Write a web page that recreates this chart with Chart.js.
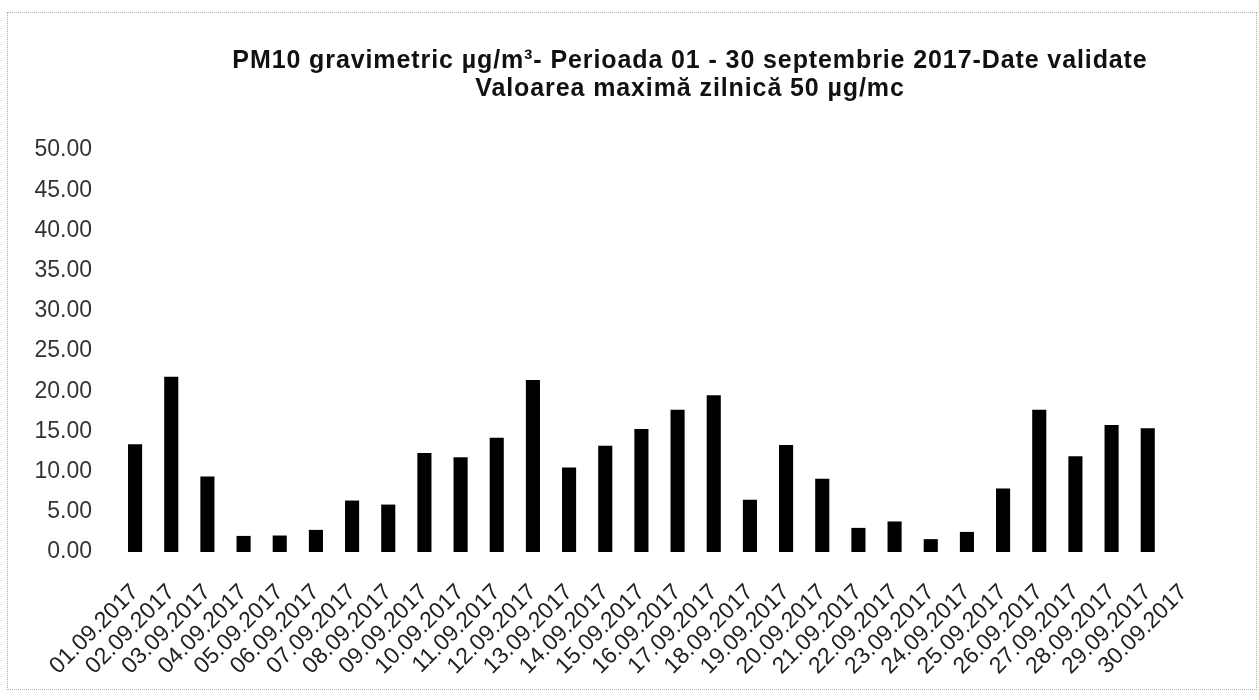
<!DOCTYPE html>
<html>
<head>
  <meta charset="utf-8">
  <title>PM10 gravimetric septembrie 2017</title>
  <style>
    body {
      margin: 0;
      background: #fff;
      font-family: "Liberation Sans", Arial, sans-serif;
    }
    #wrap {
      position: relative;
      width: 1259px;
      height: 700px;
    }
    #frame {
      position: absolute;
      left: 7px;
      top: 12px;
      width: 1248px;
      height: 676px;
      border: 1px dotted #b0b0b0;
      pointer-events: none;
    }
  </style>
</head>
<body>
  <div id="wrap">
    <canvas id="pmChart" width="1259" height="700"></canvas>
    <div id="frame"></div>
  </div>

  <script src="https://cdn.jsdelivr.net/npm/chart.js"></script>
  <script>
    const titleLines = [
      "PM10 gravimetric µg/m³- Perioada 01 - 30 septembrie 2017-Date validate",
      "Valoarea maximă zilnică 50 µg/mc"
    ];

    const days = [
      "01.09.2017", "02.09.2017", "03.09.2017", "04.09.2017", "05.09.2017",
      "06.09.2017", "07.09.2017", "08.09.2017", "09.09.2017", "10.09.2017",
      "11.09.2017", "12.09.2017", "13.09.2017", "14.09.2017", "15.09.2017",
      "16.09.2017", "17.09.2017", "18.09.2017", "19.09.2017", "20.09.2017",
      "21.09.2017", "22.09.2017", "23.09.2017", "24.09.2017", "25.09.2017",
      "26.09.2017", "27.09.2017", "28.09.2017", "29.09.2017", "30.09.2017"
    ];

    // valori (30.09 fara valoare)
    const pm10 = [
      13.4, 21.8, 9.4, 2.0, 2.05, 2.75, 6.4, 5.9, 12.3, 11.8,
      14.2, 21.4, 10.5, 13.2, 15.3, 17.7, 19.5, 6.5, 13.3, 9.1,
      3.0, 3.8, 1.6, 2.5, 7.9, 17.7, 11.9, 15.8, 15.4, null
    ];

    const yMin = 0;
    const yMax = 50;
    const yStep = 5;

    // titlul desenat deasupra graficului
    const titlePlugin = {
      id: 'twoLineTitle',
      afterDraw(chart) {
        const ctx = chart.ctx;
        ctx.save();
        ctx.fillStyle = '#111';
        ctx.textAlign = 'center';
        ctx.textBaseline = 'alphabetic';
        ctx.font = 'bold 25px "Liberation Sans", Arial, sans-serif';
        ctx.letterSpacing = '0.9px';
        ctx.fillText(titleLines[0], 690, 68);
        ctx.fillText(titleLines[1], 690, 96);
        ctx.restore();
      }
    };

    const ctx = document.getElementById('pmChart').getContext('2d');
    new Chart(ctx, {
      type: 'bar',
      data: {
        labels: days,
        datasets: [{
          label: 'PM10',
          data: pm10,
          backgroundColor: '#000',
          borderWidth: 0,
          barPercentage: 1.0,
          categoryPercentage: 0.39
        }]
      },
      options: {
        responsive: false,
        animation: false,
        layout: {
          padding: { top: 150, right: 57, bottom: 0, left: 0 }
        },
        plugins: {
          legend: { display: false },
          title: { display: false },
          tooltip: { enabled: false }
        },
        scales: {
          x: {
            grid: { display: false, drawTicks: false },
            border: { display: false },
            ticks: {
              color: '#222',
              font: { family: '"Liberation Sans", Arial, sans-serif', size: 23 },
              maxRotation: 45,
              minRotation: 45,
              autoSkip: false,
              padding: 27
            },
            afterFit(scale) {
              scale.height = 148;
            }
          },
          y: {
            min: yMin,
            max: yMax,
            grid: { display: false, drawTicks: false },
            border: { display: false },
            ticks: {
              stepSize: yStep,
              color: '#333',
              font: { family: '"Liberation Sans", Arial, sans-serif', size: 23 },
              padding: 25,
              callback: v => v.toFixed(2)
            },
            afterFit(scale) {
              scale.width = 117;
            }
          }
        }
      },
      plugins: [titlePlugin]
    });
  </script>
</body>
</html>
